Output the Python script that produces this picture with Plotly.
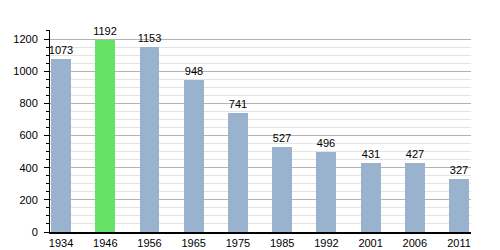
import plotly.graph_objects as go

years = ["1934", "1946", "1956", "1965", "1975", "1985", "1992", "2001", "2006", "2011"]
population = [1073, 1192, 1153, 948, 741, 527, 496, 431, 427, 327]
highlight_year = "1946"

blue = "rgb(153,178,205)"
green = "rgb(102,226,102)"
colors = [green if y == highlight_year else blue for y in years]

fig = go.Figure(go.Bar(
    x=years, y=population, marker=dict(color=colors, line=dict(width=0)),
    width=0.45, text=[str(v) for v in population], textposition="outside",
    textfont=dict(size=11, color="black", family="Liberation Sans"),
    cliponaxis=False,
))

fig.update_layout(
    width=500, height=250,
    margin=dict(l=50, r=29, t=30, b=18),
    plot_bgcolor="white", paper_bgcolor="white",
    font=dict(family="Liberation Sans", size=11, color="black"),
    showlegend=False, bargap=0,
    uniformtext=dict(minsize=10, mode="show"),
)
fig.update_xaxes(
    type="category", range=[-0.25, 9.27], showgrid=False, automargin=False,
    showline=True, linecolor="black", linewidth=1.5, ticks="", ticklabelstandoff=0,
)
fig.update_yaxes(
    range=[0, 1256], dtick=200, tick0=0, showgrid=True, gridcolor="#b4b4b4", gridwidth=1,
    showline=True, linecolor="black", linewidth=1, ticks="outside", ticklen=5,
    tickcolor="black", zeroline=False, ticklabelstandoff=4, automargin=False,
    minor=dict(dtick=50, showgrid=True, gridcolor="#e4e4e4", ticks="outside", ticklen=3, tickcolor="black"),
)

fig.write_html("out.html")
